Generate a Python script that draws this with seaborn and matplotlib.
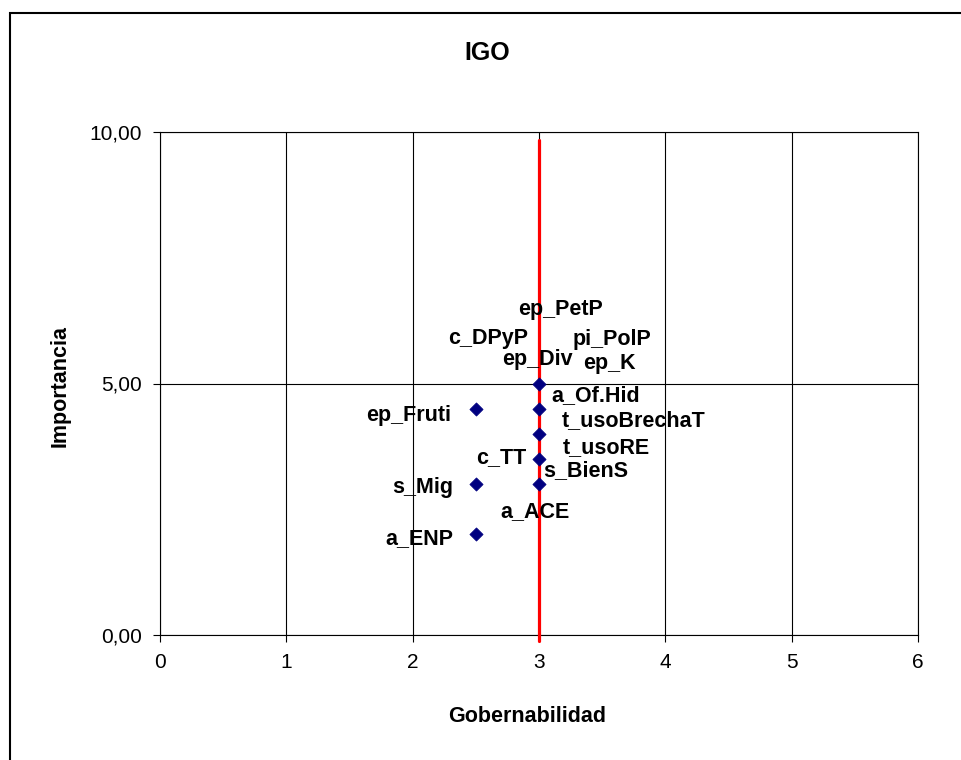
"""
Gráfico IGO : Importancia vs Gobernabilidad (nube de puntos).
"""

import matplotlib
matplotlib.use("Agg")
import matplotlib.pyplot as plt
from matplotlib.patches import Rectangle
from matplotlib.ticker import FuncFormatter, MultipleLocator
import pandas as pd
import seaborn as sns

# Datos
gobernabilidad = [2.5, 2.5, 2.5, 3.0, 3.0, 3.0, 3.0, 3.0]
importancia = [4.5, 3.0, 2.0, 5.0, 4.5, 4.0, 3.5, 3.0]

etiquetas = [
    "ep_PetP", "c_DPyP", "pi_PolP", "ep_Div", "ep_K", "a_Of.Hid",
    "ep_Fruti", "t_usoBrechaT", "t_usoRE", "c_TT", "s_BienS",
    "s_Mig", "a_ACE", "a_ENP",
]

linea_roja_x = [3, 3]
linea_roja_y = [-0.12, 9.84]

# Posición de las etiquetas (coordenadas de datos, centro del texto)
pos_etiquetas = [
    (3.17, 6.48), (2.60, 5.90), (3.58, 5.87), (2.985, 5.48), (3.56, 5.39),
    (3.45, 4.77), (1.97, 4.37), (3.75, 4.26), (3.53, 3.73), (2.70, 3.53),
    (3.37, 3.26), (2.08, 2.93), (2.97, 2.46), (2.05, 1.91),
]

df = pd.DataFrame({"Gobernabilidad": gobernabilidad, "Importancia": importancia})

sns.set_style("white")
plt.rcParams["font.family"] = ["Liberation Sans", "DejaVu Sans"]
plt.rcParams["text.color"] = "black"
plt.rcParams["xtick.color"] = "black"
plt.rcParams["ytick.color"] = "black"

fig = plt.figure(figsize=(9.61, 7.6), dpi=100)
ax = fig.add_axes([160 / 961, 1 - 635 / 760, 758 / 961, 503 / 760])

# marco exterior del gráfico
fig.patches.append(
    Rectangle((9.5 / 961, -0.1), 1.2, 1.1 - 12.5 / 760,
              transform=fig.transFigure, fill=False,
              edgecolor="black", linewidth=1.5)
)

sns.scatterplot(
    data=df, x="Gobernabilidad", y="Importancia", ax=ax,
    marker="D", s=45, color="#000080", edgecolor="#000080", zorder=4,
)

ax.plot(linea_roja_x, linea_roja_y, color="red", linewidth=2.3,
        zorder=3, clip_on=False)

for texto, (px, py) in zip(etiquetas, pos_etiquetas):
    ax.text(px, py, texto, ha="center", va="center", fontsize=15.5,
            fontweight="bold", color="black", zorder=5)

ax.set_xlim(0, 6)
ax.set_ylim(0, 10)
ax.xaxis.set_major_locator(MultipleLocator(1))
ax.yaxis.set_major_locator(MultipleLocator(5))
ax.yaxis.set_major_formatter(
    FuncFormatter(lambda v, _: f"{v:.2f}".replace(".", ","))
)
ax.grid(True, color="black", linewidth=0.8)
ax.set_axisbelow(True)
for lado in ax.spines.values():
    lado.set_color("black")
    lado.set_linewidth(0.8)

ax.tick_params(axis="both", direction="out", length=5, width=0.8,
               color="black", labelcolor="black", labelsize=15, pad=8,
               left=True, bottom=True)
ax.set_xlabel("")
ax.set_ylabel("")

fig.text(527 / 961, 1 - 716 / 760, "Gobernabilidad", ha="center",
         va="center", fontsize=15.5, fontweight="bold")
fig.text(60 / 961, 1 - 386 / 760, "Importancia", ha="center", va="center",
         rotation=90, fontsize=15.5, fontweight="bold")
fig.text(487 / 961, 1 - 53 / 760, "IGO", ha="center", va="center",
         fontsize=18, fontweight="bold")

fig.savefig("out.png", dpi=100, facecolor="white")
